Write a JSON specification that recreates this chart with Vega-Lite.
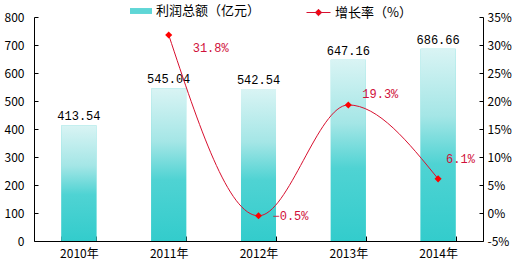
{
  "$schema": "https://vega.github.io/schema/vega-lite/v6.json",
  "width": 449,
  "height": 224,
  "autosize": {"type": "none"},
  "padding": {"left": 34, "top": 17, "right": 33, "bottom": 26},
  "background": "white",
  "config": {
    "view": {"stroke": null},
    "axis": {"labelFont": "Noto Sans CJK SC", "labelFontSize": 12, "labelColor": "#000", "domainColor": "#000", "tickColor": "#000", "grid": false, "title": null, "labelOverlap": false, "labelBound": false, "labelFlush": false},
    "legend": {"labelFont": "Noto Sans CJK SC", "labelFontSize": 13, "labelColor": "#000", "padding": 0, "title": null}
  },
  "data": {
    "values": [
      {"year": "2010年", "profit": 413.54, "growth": null},
      {"year": "2011年", "profit": 545.04, "growth": 31.8},
      {"year": "2012年", "profit": 542.54, "growth": -0.5},
      {"year": "2013年", "profit": 647.16, "growth": 19.3},
      {"year": "2014年", "profit": 686.66, "growth": 6.1}
    ]
  },
  "encoding": {
    "x": {
      "field": "year", "type": "nominal", "sort": null,
      "scale": {"paddingInner": 0.61, "paddingOuter": 0.305},
      "axis": {"labelAngle": 0, "tickBand": "extent", "tickSize": -5, "labelPadding": 12, "domainWidth": 1}
    }
  },
  "layer": [
    {
      "encoding": {
        "y": {"field": "profit", "type": "quantitative", "scale": {"domain": [0, 800]}, "axis": {"values": [0,100,200,300,400,500,600,700,800], "labelOverlap": false, "tickSize": -4, "labelPadding": 14}}
      },
      "layer": [
        {
          "mark": {"type": "bar", "opacity": 1},
          "encoding": {
            "color": {"datum": "利润总额（亿元）", "scale": {"range": ["#5fd6d6"]}, "legend": {"orient": "none", "legendX": 96, "legendY": -17, "symbolType": "M-1,-0.27H1V0.27H-1Z", "symbolSize": 484, "symbolOpacity": 1, "symbolStrokeWidth": 0}}
          }
        },
        {
          "mark": {"type": "bar", "fill": {"gradient": "linear", "x1": 0, "y1": 0, "x2": 0, "y2": 1, "stops": [
            {"offset": 0, "color": "#d9f4f4"},
            {"offset": 0.35, "color": "#a4e6e6"},
            {"offset": 0.6, "color": "#4fd3d3"},
            {"offset": 1, "color": "#33cccc"}
          ]}}
        },
        {
          "mark": {"type": "text", "font": "Liberation Mono", "fontSize": 12, "dy": -9, "color": "#000"},
          "encoding": {
            "text": {"field": "profit", "type": "quantitative", "format": ".2f"}
          }
        }
      ]
    },
    {
      "transform": [{"filter": "datum.growth != null"}],
      "encoding": {
        "y": {"field": "growth", "type": "quantitative", "scale": {"domain": [-5, 35]}, "axis": {"orient": "right", "values": [-5,0,5,10,15,20,25,30,35], "labelOverlap": false, "labelExpr": "datum.value + '%'", "tickSize": -4, "labelPadding": 8}}
      },
      "layer": [
        {
          "mark": {"type": "line", "interpolate": "monotone", "strokeWidth": 1},
          "encoding": {
            "stroke": {"datum": "增长率（%）", "scale": {"range": ["#d8102f"]}, "legend": {"orient": "none", "legendX": 272, "legendY": -17, "symbolType": "M-1,0H1M0,-0.27L0.27,0L0,0.27L-0.27,0Z", "symbolSize": 576, "symbolFillColor": "#ff0000", "symbolStrokeWidth": 1}}
          }
        },
        {
          "mark": {"type": "point", "shape": "diamond", "filled": true, "size": 50, "color": "#ff0000", "opacity": 1}
        },
        {
          "transform": [{"filter": "datum.growth == 31.8"}],
          "mark": {"type": "text", "font": "Liberation Mono", "fontSize": 12, "align": "left", "dx": 24, "dy": 13, "color": "#d0103a", "text": {"expr": "format(datum.growth, '.1f') + '%'"}}
        },
        {
          "transform": [{"filter": "datum.growth == -0.5"}],
          "mark": {"type": "text", "font": "Liberation Mono", "fontSize": 12, "align": "left", "dx": 14, "dy": 0, "color": "#d0103a", "text": {"expr": "format(datum.growth, '.1f') + '%'"}}
        },
        {
          "transform": [{"filter": "datum.growth == 19.3"}],
          "mark": {"type": "text", "font": "Liberation Mono", "fontSize": 12, "align": "left", "dx": 14, "dy": -11, "color": "#d0103a", "text": {"expr": "format(datum.growth, '.1f') + '%'"}}
        },
        {
          "transform": [{"filter": "datum.growth == 6.1"}],
          "mark": {"type": "text", "font": "Liberation Mono", "fontSize": 12, "align": "left", "dx": 8, "dy": -20, "color": "#d0103a", "text": {"expr": "format(datum.growth, '.1f') + '%'"}}
        }
      ]
    }
  ],
  "resolve": {"scale": {"y": "independent"}}
}
